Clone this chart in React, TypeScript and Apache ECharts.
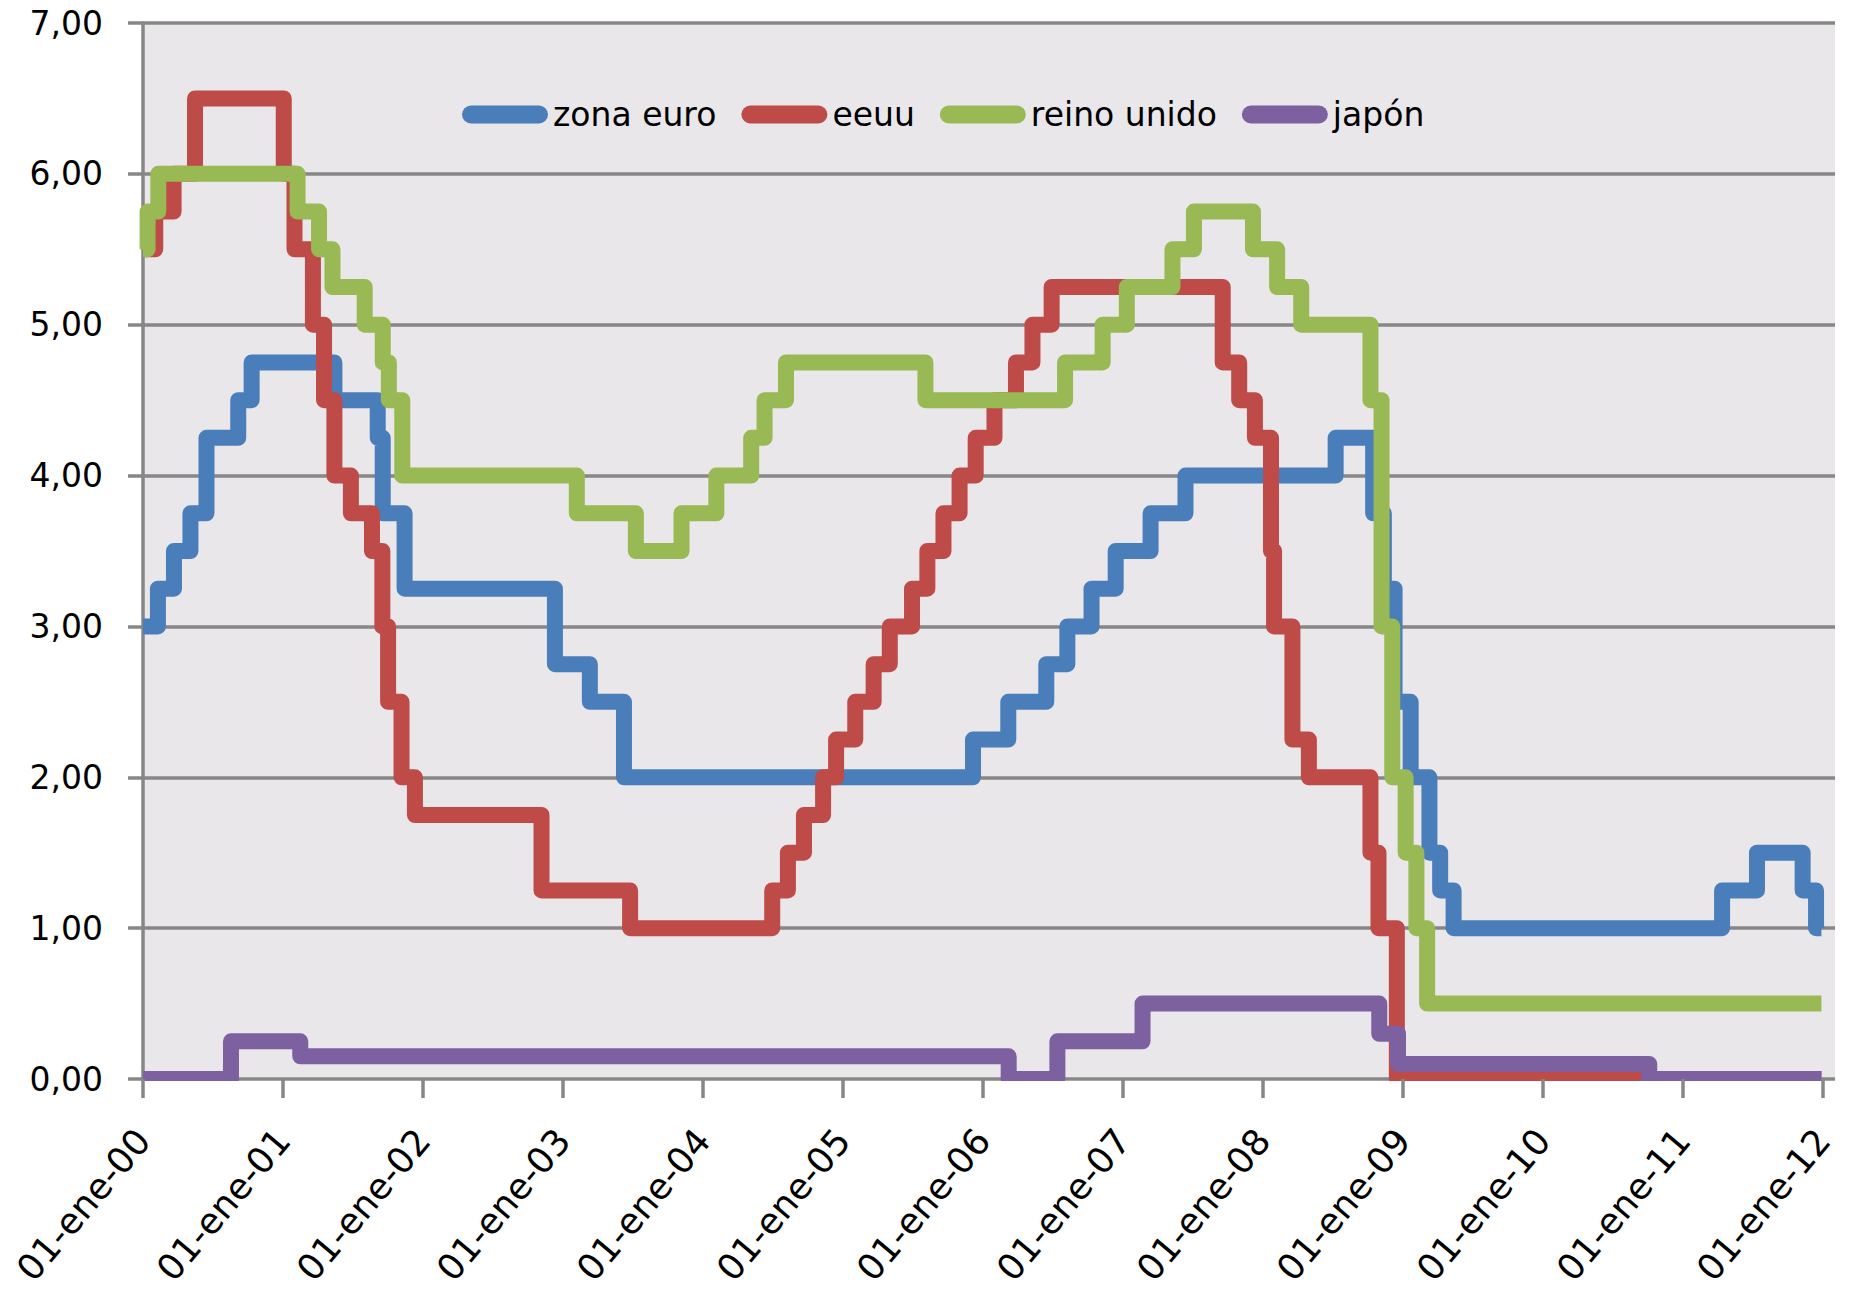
import React, { useEffect, useRef } from "react";
import * as echarts from "echarts";

// Rate changes: [date of change, rate after change]
const zonaEuro: [string, number][] = [
  ["2000-01-01", 3.0], ["2000-02-09", 3.25], ["2000-03-22", 3.5], ["2000-05-04", 3.75],
  ["2000-06-15", 4.25], ["2000-09-06", 4.5], ["2000-10-11", 4.75], ["2001-05-15", 4.5],
  ["2001-09-05", 4.25], ["2001-09-18", 3.75], ["2001-11-14", 3.25], ["2002-12-11", 2.75],
  ["2003-03-12", 2.5], ["2003-06-09", 2.0], ["2005-12-06", 2.25], ["2006-03-08", 2.5],
  ["2006-06-15", 2.75], ["2006-08-09", 3.0], ["2006-10-11", 3.25], ["2006-12-13", 3.5],
  ["2007-03-14", 3.75], ["2007-06-13", 4.0], ["2008-07-09", 4.25], ["2008-10-15", 3.75],
  ["2008-11-12", 3.25], ["2008-12-10", 2.5], ["2009-01-21", 2.0], ["2009-03-11", 1.5],
  ["2009-04-08", 1.25], ["2009-05-13", 1.0], ["2011-04-13", 1.25], ["2011-07-13", 1.5],
  ["2011-11-09", 1.25], ["2011-12-14", 1.0],
];

const eeuu: [string, number][] = [
  ["2000-01-01", 5.5], ["2000-02-02", 5.75], ["2000-03-21", 6.0], ["2000-05-16", 6.5],
  ["2001-01-03", 6.0], ["2001-01-31", 5.5], ["2001-03-20", 5.0], ["2001-04-18", 4.5],
  ["2001-05-15", 4.0], ["2001-06-27", 3.75], ["2001-08-21", 3.5], ["2001-09-17", 3.0],
  ["2001-10-02", 2.5], ["2001-11-06", 2.0], ["2001-12-11", 1.75], ["2002-11-06", 1.25],
  ["2003-06-25", 1.0], ["2004-06-30", 1.25], ["2004-08-10", 1.5], ["2004-09-21", 1.75],
  ["2004-11-10", 2.0], ["2004-12-14", 2.25], ["2005-02-02", 2.5], ["2005-03-22", 2.75],
  ["2005-05-03", 3.0], ["2005-06-30", 3.25], ["2005-08-09", 3.5], ["2005-09-20", 3.75],
  ["2005-11-01", 4.0], ["2005-12-13", 4.25], ["2006-01-31", 4.5], ["2006-03-28", 4.75],
  ["2006-05-10", 5.0], ["2006-06-29", 5.25], ["2007-09-18", 4.75], ["2007-10-31", 4.5],
  ["2007-12-11", 4.25], ["2008-01-22", 3.5], ["2008-01-30", 3.0], ["2008-03-18", 2.25],
  ["2008-04-30", 2.0], ["2008-10-08", 1.5], ["2008-10-29", 1.0], ["2008-12-16", 0.0],
];

const reinoUnido: [string, number][] = [
  ["2000-01-01", 5.5], ["2000-01-13", 5.75], ["2000-02-10", 6.0], ["2001-02-08", 5.75],
  ["2001-04-05", 5.5], ["2001-05-10", 5.25], ["2001-08-02", 5.0], ["2001-09-18", 4.75],
  ["2001-10-04", 4.5], ["2001-11-08", 4.0], ["2003-02-06", 3.75], ["2003-07-10", 3.5],
  ["2003-11-06", 3.75], ["2004-02-05", 4.0], ["2004-05-06", 4.25], ["2004-06-10", 4.5],
  ["2004-08-05", 4.75], ["2005-08-04", 4.5], ["2006-08-03", 4.75], ["2006-11-09", 5.0],
  ["2007-01-11", 5.25], ["2007-05-10", 5.5], ["2007-07-05", 5.75], ["2007-12-06", 5.5],
  ["2008-02-07", 5.25], ["2008-04-10", 5.0], ["2008-10-08", 4.5], ["2008-11-06", 3.0],
  ["2008-12-04", 2.0], ["2009-01-08", 1.5], ["2009-02-05", 1.0], ["2009-03-05", 0.5],
];

const japon: [string, number][] = [
  ["2000-01-01", 0.0], ["2000-08-18", 0.25], ["2001-02-15", 0.15], ["2006-03-09", 0.0],
  ["2006-07-14", 0.25], ["2007-02-21", 0.5], ["2008-10-31", 0.3], ["2008-12-19", 0.1],
  ["2010-10-05", 0.0],
];

const END_DATE = "2011-12-28";
const seriesNames = ["zona euro", "eeuu", "reino unido", "japón"];
const seriesColors = ["#4A7EBB", "#BE4B48", "#98B954", "#7D60A0"];
const xTickLabels = [
  "01-ene-00", "01-ene-01", "01-ene-02", "01-ene-03", "01-ene-04", "01-ene-05", "01-ene-06",
  "01-ene-07", "01-ene-08", "01-ene-09", "01-ene-10", "01-ene-11", "01-ene-12",
];
const xTickValues = xTickLabels.map((_, i) => i);

function toYears(s: string): number {
  const [y, m, d] = s.split("-").map(Number);
  const start = Date.UTC(y, 0, 1);
  const next = Date.UTC(y + 1, 0, 1);
  return y - 2000 + (Date.UTC(y, m - 1, d) - start) / (next - start);
}

function toSeriesData(rows: [string, number][]) {
  const pts = rows.map(([d, v]) => [toYears(d), v]);
  pts.push([toYears(END_DATE), rows[rows.length - 1][1]]);
  return pts;
}

const FONT = "DejaVu Sans";
const GRID_COLOR = "#878787";

export default function App() {
  const ref = useRef<HTMLDivElement>(null);
  useEffect(() => {
    if (!ref.current) return;
    const chart = echarts.init(ref.current, undefined, { renderer: "svg" });
    const allData = [zonaEuro, eeuu, reinoUnido, japon];
    const legendIcon = "path://M9,0H77A9,9 0 0 1 77,18H9A9,9 0 0 1 9,0Z";
    chart.setOption({
      animation: false,
      backgroundColor: "#ffffff",
      grid: {
        left: 143,
        right: 23,
        top: 23,
        bottom: 213,
        show: true,
        backgroundColor: "#E9E7EA",
        borderWidth: 0,
      },
      legend: {
        left: 462,
        top: 98,
        padding: 0,
        itemWidth: 86,
        itemHeight: 18,
        itemGap: 25,
        icon: legendIcon,
        textStyle: { fontFamily: FONT, fontSize: 33, color: "#000" },
        data: seriesNames,
      },
      xAxis: {
        type: "value",
        min: 0,
        max: 12.086,
        z: 10,
        axisLine: { show: false },
        splitLine: { show: false },
        axisTick: {
          show: true,
          customValues: xTickValues,
          length: 19,
          lineStyle: { color: GRID_COLOR, width: 3.5 },
        },
        axisLabel: {
          customValues: xTickValues,
          formatter: (v: number) => xTickLabels[Math.round(v)] ?? "",
          rotate: 50,
          margin: 55,
          fontFamily: FONT,
          fontSize: 36,
          color: "#000",
        },
      },
      yAxis: {
        type: "value",
        min: 0,
        max: 7,
        interval: 1,
        axisLine: { show: true, lineStyle: { color: GRID_COLOR, width: 3.5 } },
        axisTick: { show: true, length: 15, lineStyle: { color: GRID_COLOR, width: 3.5 } },
        splitLine: { show: true, lineStyle: { color: GRID_COLOR, width: 3.5 } },
        axisLabel: {
          margin: 40,
          fontFamily: FONT,
          fontSize: 33,
          color: "#000",
          formatter: (v: number) => v.toFixed(2).replace(".", ","),
        },
      },
      graphic: {
        elements: [
          {
            type: "rect",
            z: 5,
            shape: { x: 141, y: 1081, width: 1717, height: 22 },
            style: { fill: "#ffffff" },
            silent: true,
          },
        ],
      },
      series: allData.map((rows, i) => ({
        name: seriesNames[i],
        type: "line",
        step: "end",
        showSymbol: false,
        symbol: "none",
        color: seriesColors[i],
        lineStyle: { width: 16, color: seriesColors[i], cap: "butt", join: "round" },
        data: toSeriesData(rows),
      })),
    });
    return () => chart.dispose();
  }, []);
  return (
    <div
      ref={ref}
      style={{ position: "absolute", left: 0, top: 0, width: 1858, height: 1292 }}
    />
  );
}
